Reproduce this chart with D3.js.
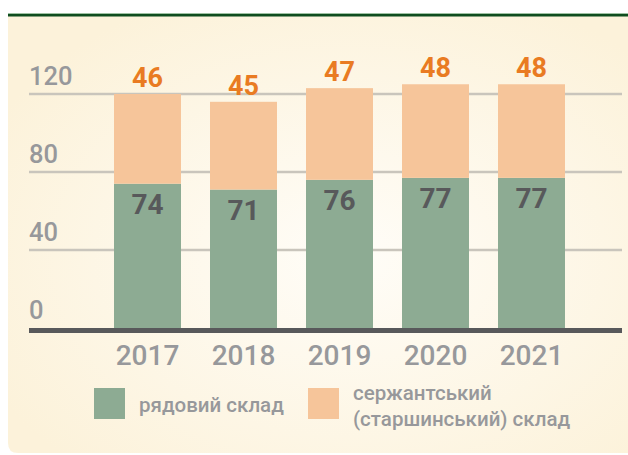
<!DOCTYPE html>
<html>
<head>
<meta charset="utf-8">
<script src="https://cdn.jsdelivr.net/npm/d3@7"></script>
<style>
  html, body { margin: 0; padding: 0; background: #fff; }
  svg { display: block; font-family: Roboto, "Noto Sans", sans-serif; }
</style>
</head>
<body>
<svg id="chart" width="628" height="455"></svg>
<script>
// chart data
const years = ["2017", "2018", "2019", "2020", "2021"];
const rank = [74, 71, 76, 77, 77];        // рядовий склад
const sergeant = [46, 45, 47, 48, 48];    // сержантський (старшинський) склад
const yTicks = [0, 40, 80, 120];
const legendLabels = [["рядовий склад"], ["сержантський", "(старшинський) склад"]];

const colors = { rank: "#8dab93", sergeant: "#f6c59a" };

const svg = d3.select("#chart");
const W = 628, H = 455;

// background panel with soft radial gradient
const defs = svg.append("defs");
const grad = defs.append("radialGradient")
  .attr("id", "bg").attr("cx", "55%").attr("cy", "55%").attr("r", "65%");
grad.append("stop").attr("offset", "0%").attr("stop-color", "#fffdf8");
grad.append("stop").attr("offset", "100%").attr("stop-color", "#fcf2da");

svg.append("path")
  .attr("d", "M8,16 H628 V453 H18 Q8,453 8,443 Z")
  .attr("fill", "url(#bg)");

// top rule
svg.append("rect").attr("x", 8).attr("y", 13).attr("width", W - 8).attr("height", 1)
  .attr("fill", "#9fc2a3");
svg.append("rect").attr("x", 8).attr("y", 14).attr("width", W - 8).attr("height", 2.5)
  .attr("fill", "#0f4d1f");

const x = d3.scaleBand().domain(years).range([99.5, 579.5])
  .paddingInner(0.302).paddingOuter(0.151);
const y = d3.scaleLinear().domain([0, 120]).range([328, 94]);

// gridlines
const grid = svg.append("g");
grid.selectAll("line").data(yTicks.filter(d => d > 0)).join("line")
  .attr("x1", 29).attr("x2", 622)
  .attr("y1", d => y(d)).attr("y2", d => y(d))
  .attr("stroke", "#c9c5bc").attr("stroke-width", 2.5);

grid.selectAll("text").data(yTicks).join("text")
  .attr("x", 29).attr("y", d => y(d) - 9)
  .attr("font-size", 25.5).attr("font-weight", 500).attr("fill", "#97989b")
  .text(d => d);

// stacked bars
const rows = years.map((yr, i) => ({ year: yr, rank: rank[i], sergeant: sergeant[i] }));
const stack = d3.stack().keys(["rank", "sergeant"])(rows);

svg.append("g").selectAll("g").data(stack).join("g")
  .attr("fill", s => colors[s.key])
  .selectAll("rect").data(s => s).join("rect")
  .attr("x", d => x(d.data.year))
  .attr("width", x.bandwidth())
  .attr("y", d => y(d[1]))
  .attr("height", d => y(d[0]) - y(d[1]));

// value labels
svg.append("g").selectAll("text").data(rows).join("text")
  .attr("x", d => x(d.year) + x.bandwidth() / 2)
  .attr("y", d => y(d.rank) + 30)
  .attr("text-anchor", "middle").attr("font-size", 28).attr("font-weight", 700)
  .attr("fill", "#58595b")
  .text(d => d.rank);

svg.append("g").selectAll("text").data(rows).join("text")
  .attr("x", d => x(d.year) + x.bandwidth() / 2)
  .attr("y", d => y(d.rank + d.sergeant) - 7)
  .attr("text-anchor", "middle").attr("font-size", 27).attr("font-weight", 700)
  .attr("fill", "#e97b22")
  .text(d => d.sergeant);

// baseline
svg.append("line").attr("x1", 29).attr("x2", 622)
  .attr("y1", y(0) + 2.5).attr("y2", y(0) + 2.5)
  .attr("stroke", "#58595b").attr("stroke-width", 5);

// x axis labels
const xAxis = svg.append("g").attr("transform", `translate(0,${y(0) + 37})`)
  .call(d3.axisBottom(x).tickSize(0).tickPadding(0));
xAxis.select(".domain").remove();
xAxis.selectAll("text")
  .attr("font-size", 28).attr("font-weight", 500).attr("fill", "#97989b")
  .attr("font-family", "Roboto, sans-serif")
  .attr("dy", 0);

// legend
const legend = svg.append("g");
const lx = [94, 308];
const keys = ["rank", "sergeant"];
keys.forEach((k, i) => {
  const g = legend.append("g").attr("transform", `translate(${lx[i]},388)`);
  g.append("rect").attr("width", 31).attr("height", 31).attr("fill", colors[k]);
  const lines = legendLabels[i];
  const first = lines.length === 1 ? 24 : 12;
  lines.forEach((t, j) => {
    g.append("text").attr("x", 45).attr("y", first + j * 26)
      .attr("font-size", 20.5).attr("font-weight", 500).attr("fill", "#97989b").text(t);
  });
});
</script>
</body>
</html>
